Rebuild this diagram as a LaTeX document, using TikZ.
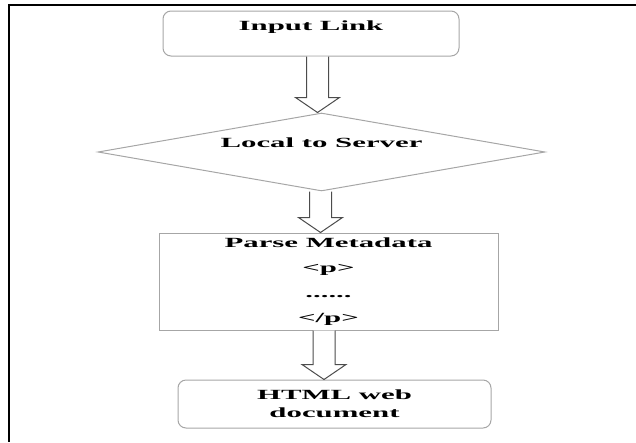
\documentclass[tikz,border=0pt]{standalone}
\usepackage{fontspec}
\newfontfamily\flowfont[FakeStretch=2.2]{Liberation Serif}
\usetikzlibrary{shapes.geometric,calc}

\tikzset{
  flowbox/.style={draw=gray!70, line width=1pt, inner sep=0pt,
    font=\flowfont\bfseries\fontsize{14}{17}\selectfont, align=center},
  hollow/.style={draw=black!70, line width=1pt, fill=white},
}
\newcommand{\flowarrow}[3]{% x, from, to
  \draw[hollow] let \p1=(#2.south), \p2=(#3.north) in
    (#1pt-11pt,\y1) -- (#1pt-11pt,\y2+15pt) -- (#1pt-22pt,\y2+15pt) -- (#1pt,\y2)
    -- (#1pt+22pt,\y2+15pt) -- (#1pt+11pt,\y2+15pt) -- (#1pt+11pt,\y1);}

\begin{document}
\begin{tikzpicture}[x=1pt,y=-1pt]
    \useasboundingbox (0,0) rectangle (636,442);
    % frame
    \draw[line width=2pt] (8,5) -- (636,5);
    \draw[line width=2pt] (9,5) -- (9,442);

    \node (link) [flowbox, rounded corners=8pt, minimum width=296pt,
      minimum height=45pt, text height=10pt, text depth=17pt]
      at (311,33.5) {Input Link};
    \node (server) [flowbox, diamond, aspect=5.73, minimum width=447pt,
      minimum height=78pt, text height=10pt, text depth=20pt]
      at (321.5,152) {Local to Server};
    \node (parse) [flowbox, minimum width=339pt, minimum height=97pt,
      font=\flowfont\bfseries\fontsize{14}{25}\selectfont]
      at (328.5,281.5) {Parse Metadata\\ {<}p{>}\\ ......\\ {<}/p{>}};
    \node (html) [flowbox, rounded corners=8pt, minimum width=313pt,
      minimum height=48pt, font=\flowfont\bfseries\fontsize{14}{18}\selectfont]
      at (334.5,404) {HTML web\\ document};

    \flowarrow{317.5}{link}{server}
    \flowarrow{320.5}{server}{parse}
    \flowarrow{324}{parse}{html}
\end{tikzpicture}
\end{document}
